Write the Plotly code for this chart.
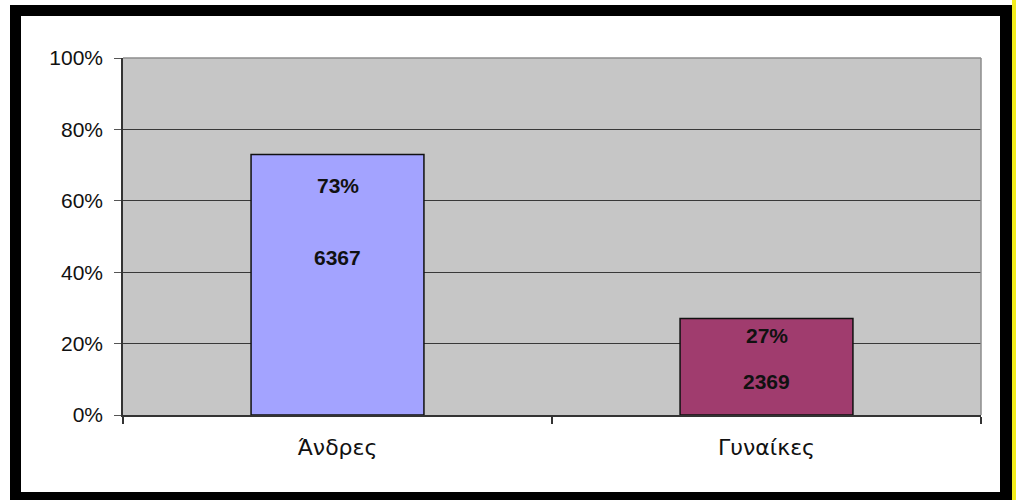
import plotly.graph_objects as go

categories = ["Άνδρες", "Γυναίκες"]
shares = [0.73, 0.27]
counts = [6367, 2369]
bar_colors = ["#A3A3FF", "#A03C6E"]
pct_label_y = [0.643, 0.222]
count_label_y = [0.44, 0.093]
y_tickvals = [0, 0.2, 0.4, 0.6, 0.8, 1.0]

W, H = 1016, 500
L, R, T, B = 123, 35, 58, 85
PW, PH = W - L - R, H - T - B


def px(x):
    return (x - L) / PW


def py(y):
    return (H - B - y) / PH


def prect(x0, y0, x1, y1, color):
    return dict(type="rect", xref="paper", yref="paper",
                x0=px(x0), x1=px(x1), y0=py(y1), y1=py(y0),
                fillcolor=color, line=dict(width=0), layer="below")


fig = go.Figure()
fig.add_trace(go.Bar(
    x=categories, y=shares, width=0.403,
    marker=dict(color=bar_colors, line=dict(color="#111111", width=1.5)),
    hoverinfo="skip",
))

annotations = []
for c, s, n, yp, yc in zip(categories, shares, counts, pct_label_y, count_label_y):
    annotations.append(dict(x=c, y=yp, xref="x", yref="y", text=f"<b>{round(s*100)}%</b>",
                            showarrow=False, font=dict(family="Liberation Sans", size=21, color="#111111")))
    annotations.append(dict(x=c, y=yc, xref="x", yref="y", text=f"<b>{n}</b>",
                            showarrow=False, font=dict(family="Liberation Sans", size=21, color="#111111")))

shapes = [
    # black frame
    prect(10, 5, 21, 500, "#000000"),
    prect(10, 5, 1012, 16, "#000000"),
    prect(1000, 5, 1012, 500, "#000000"),
    prect(10, 492, 1012, 500, "#000000"),
    prect(1012, 0, 1016, 500, "#F2EC1C"),
    # plot area top/right border (gray)
    dict(type="line", xref="paper", yref="paper", x0=0, x1=1, y0=1, y1=1,
         line=dict(color="#8C8C8C", width=1.5), layer="above"),
    dict(type="line", xref="paper", yref="paper", x0=1, x1=1, y0=0, y1=1,
         line=dict(color="#8C8C8C", width=1.5), layer="above"),
]

fig.update_layout(
    width=W, height=H,
    margin=dict(l=L, r=R, t=T, b=B, pad=0),
    paper_bgcolor="#FFFFFF",
    plot_bgcolor="#C6C6C6",
    showlegend=False,
    annotations=annotations,
    shapes=shapes,
)
fig.update_xaxes(
    range=[-0.5, 1.5], showgrid=False, tickson="boundaries",
    ticks="outside", ticklen=7, tickcolor="#333333", tickwidth=1.5,
    showline=True, linecolor="#333333", linewidth=1.5,
    tickfont=dict(family="DejaVu Sans", size=22, color="#111111"),
    ticklabelstandoff=12, fixedrange=True,
)
fig.update_yaxes(
    range=[0, 1], tickvals=y_tickvals, tickformat=".0%",
    showgrid=True, gridcolor="#383838", gridwidth=1.2,
    ticks="outside", ticklen=7, tickcolor="#555555", tickwidth=1.2,
    showline=True, linecolor="#333333", linewidth=1.5,
    tickfont=dict(family="Liberation Sans", size=21, color="#111111"),
    ticklabelstandoff=7,
    zeroline=False, fixedrange=True,
)

fig.write_html(
    "out.html",
    config={"displayModeBar": False},
    post_script="document.body.style.margin='0';document.body.style.overflow='hidden';",
)
